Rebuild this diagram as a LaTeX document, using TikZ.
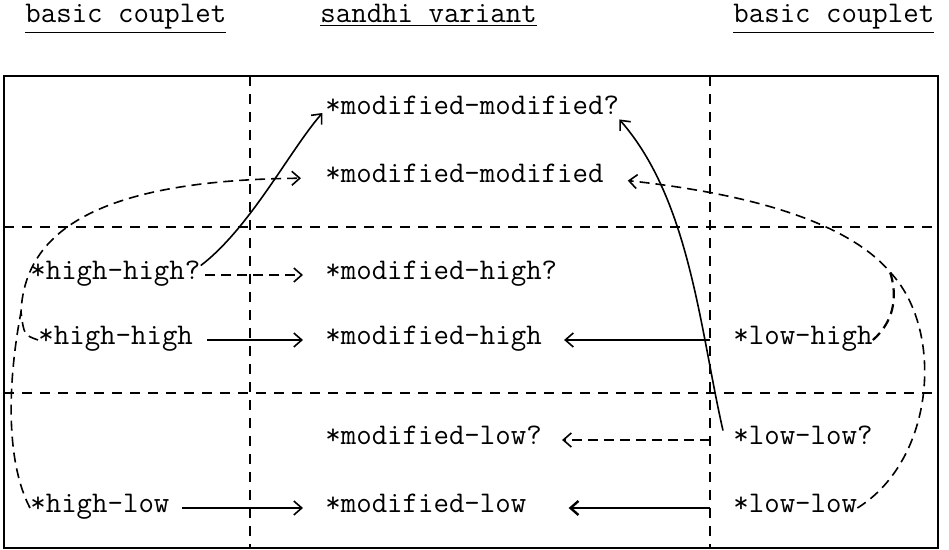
\documentclass[tikz,border=0pt]{standalone}
\usetikzlibrary{arrows.meta}
\begin{document}
\begin{tikzpicture}[x=0.5pt,y=-0.5pt,
  form/.style={anchor=west,inner sep=0pt,text height=1.6ex,text depth=0.5ex,font=\fontsize{15}{18}\ttfamily},
  grid/.style={dash pattern=on 5pt off 4pt,line width=0.7pt},
  link/.style={-{Straight Barb[length=4pt,width=7pt]},line width=0.8pt},
  dpath/.style={dash pattern=on 5pt off 3pt,line width=0.8pt},
  dlink/.style={link,dpath}]
\useasboundingbox (0,0) rectangle (949,550);
\node[form] (h1) at (25,18) {\underline{basic couplet}};
\node[form] (h2) at (320,18) {\underline{sandhi variant}};
\node[form] (h3) at (733,18) {\underline{basic couplet}};
\draw[line width=1pt] (4,76) rectangle (938,548);
\coordinate (vl) at (250,76);
\coordinate (vr) at (710,76);
\draw[grid] (vl) -- (250,548);
\draw[grid] (vr) -- (710,548);
\draw[grid] (4,227) -- (938,227);
\draw[grid] (4,393) -- (938,393);
\node[form] (mmq) at (325,110) {*modified-modified?};
\node[form] (mm) at (325,178) {*modified-modified};
\node[form] (hhq) at (30,275) {*high-high?};
\node[form] (mhq) at (325,275) {*modified-high?};
\node[form] (hh) at (38,340) {*high-high};
\node[form] (mh) at (325,340) {*modified-high};
\node[form] (lh) at (733,340) {*low-high};
\node[form] (mlq) at (325,440) {*modified-low?};
\node[form] (llq) at (733,440) {*low-low?};
\node[form] (hl) at (30,508) {*high-low};
\node[form] (ml) at (325,508) {*modified-low};
\node[form] (ll) at (733,508) {*low-low};
\draw[dlink,shorten <=2pt,shorten >=11pt] (hhq) -- (mhq);
\draw[link,shorten <=7pt,shorten >=11pt] (hh) -- (mh);
\draw[link,shorten <=6pt,shorten >=11pt] (hl) -- (ml);
\draw[link,shorten >=11pt] (lh.west -| vr) -- (mh.east);
\draw[dlink,shorten >=10pt] (llq.west -| vr) -- (mlq.east);
\draw[link,line width=1.2pt,shorten >=21pt] (ll.west -| vr) -- (ml.east);
\draw[link,shorten >=2pt] (hhq.north east) .. controls (250,228) and (290,150) .. (mmq.west);
\draw[link] ([xshift=-5pt]llq.north west) .. controls (700,330) and (690,200) .. (mmq.south east);
\coordinate (jr) at (890,272);
\coordinate (jl) at (21,312);
\draw[dlink,shorten >=12pt] (ll.east) .. controls (935,460) and (945,330) .. (jr)
  .. controls (850,225) and (760,195) .. (mm.east);
\draw[dpath,line width=1.1pt] (lh.east) .. controls (898,318) and (896,290) .. (jr);
\draw[dlink,shorten >=12pt] (hl.west) .. controls (5,460) and (8,380) .. (jl)
  .. controls (25,225) and (110,180) .. (mm.west);
\draw[dpath] (hh.west) .. controls (24,335) .. (jl);
\end{tikzpicture}
\end{document}
